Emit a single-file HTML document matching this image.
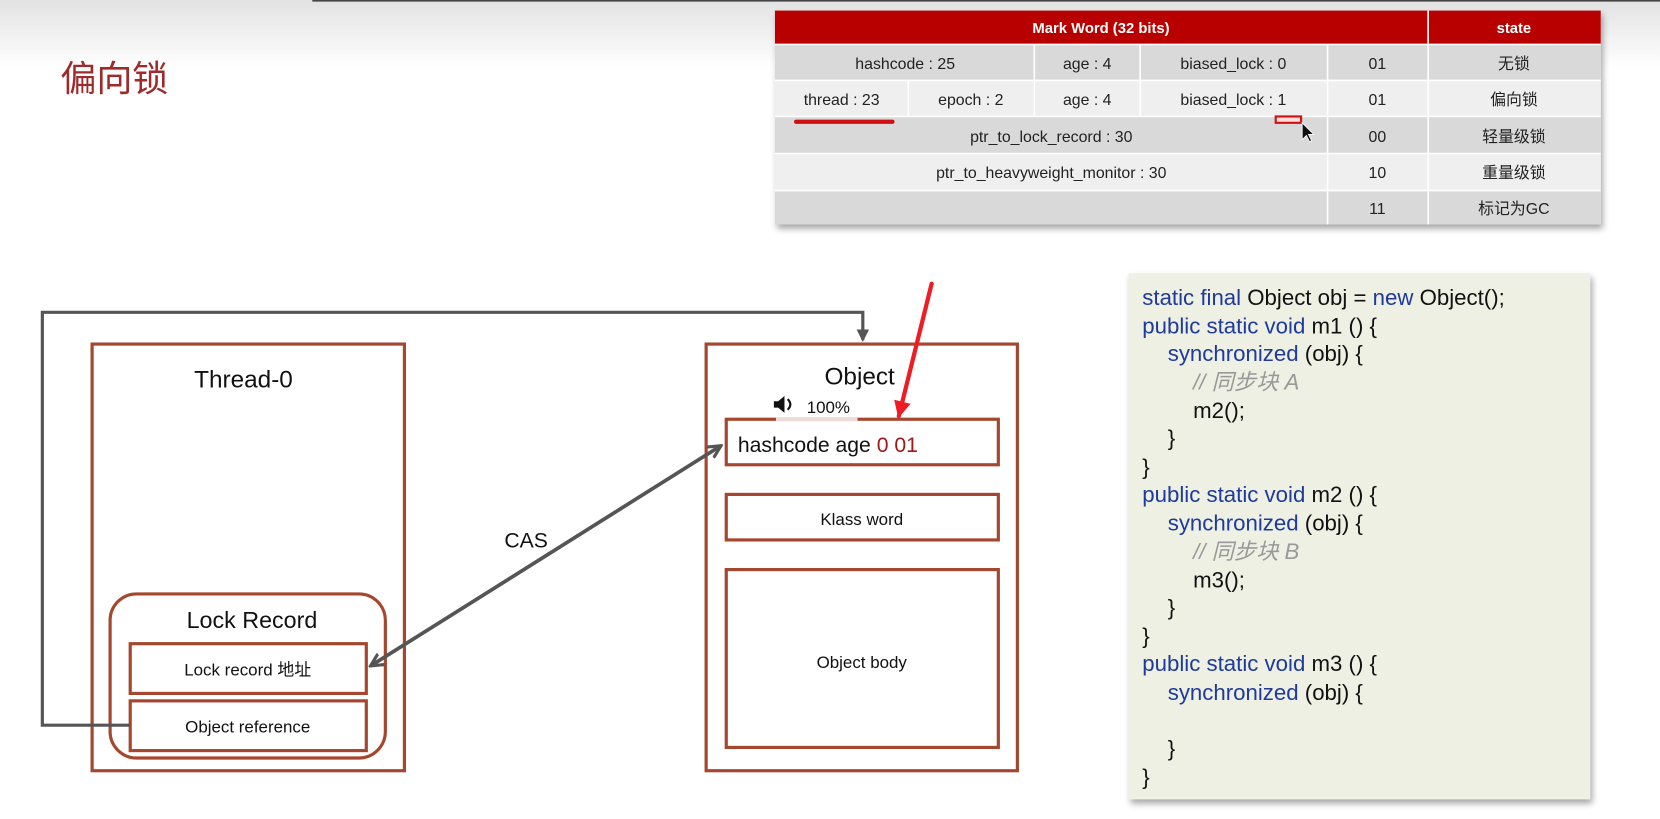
<!DOCTYPE html>
<html><head><meta charset="utf-8"><style>
html,body{margin:0;padding:0;background:#fff;width:1660px;height:819px;overflow:hidden}
svg{display:block}
text{font-family:"Liberation Sans","Noto Sans CJK SC",sans-serif}
</style></head><body>
<svg width="1660" height="819" viewBox="0 0 1568 773.6" xmlns="http://www.w3.org/2000/svg">
<defs>
<linearGradient id="tg" x1="0" y1="0" x2="0" y2="1"><stop offset="0" stop-color="#e2e2e2"/><stop offset="1" stop-color="#fff"/></linearGradient>
<marker id="ga" markerWidth="14" markerHeight="14" refX="10" refY="7" orient="auto" markerUnits="userSpaceOnUse"><path d="M0,1 L12,7 L0,13 z" fill="#555"/></marker>
<marker id="ga2" markerWidth="14" markerHeight="14" refX="12" refY="7" orient="auto-start-reverse" markerUnits="userSpaceOnUse"><path d="M0,1 L12,7 L0,13" fill="none" stroke="#555" stroke-width="3"/></marker>
<marker id="ra" markerWidth="18" markerHeight="18" refX="14" refY="9" orient="auto" markerUnits="userSpaceOnUse"><path d="M0,1 L16,9 L0,17 z" fill="#ee1c25"/></marker>
<filter id="sh" x="-5%" y="-5%" width="112%" height="115%"><feDropShadow dx="2" dy="4" stdDeviation="3" flood-color="#000" flood-opacity="0.35"/></filter>
</defs>
<rect x="0" y="0" width="1568" height="65" fill="url(#tg)"/>
<rect x="295" y="0" width="1273" height="1.5" fill="#444"/>
<text x="57" y="86" font-size="34" fill="#9e2a2b">偏向锁</text>

<g filter="url(#sh)">
<rect x="732" y="10" width="780" height="202" fill="#d9d9d9"/>
</g>
<rect x="732" y="10" width="780" height="32" fill="#b80000"/>
<rect x="732" y="76" width="780" height="34" fill="#efefef"/>
<rect x="732" y="145" width="780" height="35" fill="#efefef"/>
<g stroke="#fff" stroke-width="1.5">
<line x1="732" y1="42" x2="1512" y2="42"/><line x1="732" y1="76" x2="1512" y2="76"/><line x1="732" y1="110" x2="1512" y2="110"/><line x1="732" y1="145" x2="1512" y2="145"/><line x1="732" y1="180" x2="1512" y2="180"/>
<line x1="1349" y1="10" x2="1349" y2="212"/><line x1="1254" y1="42" x2="1254" y2="212"/>
<line x1="977" y1="42" x2="977" y2="110"/><line x1="1077" y1="42" x2="1077" y2="110"/><line x1="858" y1="76" x2="858" y2="110"/>
</g>
<g font-size="15" fill="#222" text-anchor="middle">
<text x="1040" y="31" fill="#fff" font-weight="bold" font-size="14">Mark Word (32 bits)</text>
<text x="1430" y="31" fill="#fff" font-weight="bold" font-size="14">state</text>
<text x="855" y="65">hashcode : 25</text><text x="1027" y="65">age : 4</text><text x="1165" y="65">biased_lock : 0</text><text x="1301" y="65">01</text><text x="1430" y="65">无锁</text>
<text x="795" y="99">thread : 23</text><text x="917" y="99">epoch : 2</text><text x="1027" y="99">age : 4</text><text x="1165" y="99">biased_lock : 1</text><text x="1301" y="99">01</text><text x="1430" y="99">偏向锁</text>
<text x="993" y="134">ptr_to_lock_record : 30</text><text x="1301" y="134">00</text><text x="1430" y="134">轻量级锁</text>
<text x="993" y="168">ptr_to_heavyweight_monitor : 30</text><text x="1301" y="168">10</text><text x="1430" y="168">重量级锁</text>
<text x="1301" y="202">11</text><text x="1430" y="202">标记为GC</text>
</g>
<line x1="752" y1="115" x2="843" y2="115" stroke="#d01010" stroke-width="4" stroke-linecap="round"/>
<rect x="1205" y="110" width="24" height="6" fill="#fdd" stroke="#d01010" stroke-width="2"/>
<path d="M1230,116 L1230,132 L1234,128 L1237,134 L1239,133 L1236,127 L1241,127 z" fill="#111" stroke="#fff" stroke-width="0.8"/>

<g fill="none" stroke="#a5472f" stroke-width="3">
<rect x="87" y="325" width="295" height="403"/>
<rect x="104" y="561" width="260" height="155" rx="25"/>
<rect x="123" y="608" width="223" height="47"/>
<rect x="123" y="662" width="223" height="47"/>
<rect x="667" y="325" width="294" height="403"/>
<rect x="686" y="396" width="257" height="43"/>
<rect x="686" y="467" width="257" height="43"/>
<rect x="686" y="538" width="257" height="168"/>
</g>
<rect x="733" y="394" width="77" height="4" fill="#ecdcd8"/>
<g fill="#111">
<text x="230" y="366" font-size="23" text-anchor="middle">Thread-0</text>
<text x="238" y="593" font-size="22" text-anchor="middle">Lock Record</text>
<text x="234" y="638" font-size="16" text-anchor="middle">Lock record 地址</text>
<text x="234" y="692" font-size="16" text-anchor="middle">Object reference</text>
<text x="812" y="363" font-size="23" text-anchor="middle">Object</text>
<text x="697" y="427" font-size="20">hashcode age <tspan fill="#a01818">0 01</tspan></text>
<text x="814" y="496" font-size="16" text-anchor="middle">Klass word</text>
<text x="814" y="631" font-size="16" text-anchor="middle">Object body</text>
<text x="497" y="517" font-size="20" text-anchor="middle">CAS</text>
<text x="762" y="390" font-size="16">100%</text>
</g>
<path d="M731,379 h4 l6,-5 v16 l-6,-5 h-4 z" fill="#111"/>
<path d="M744,377 q5,5 0,10" fill="none" stroke="#111" stroke-width="2"/>

<path d="M123,685 H40 V295 H815 V321" fill="none" stroke="#555" stroke-width="3" marker-end="url(#ga)"/>
<line x1="350" y1="629" x2="681" y2="421" stroke="#555" stroke-width="3.5" marker-start="url(#ga2)" marker-end="url(#ga2)"/>
<line x1="880" y1="268" x2="849" y2="393" stroke="#ee1c25" stroke-width="4" stroke-linecap="round" marker-end="url(#ra)"/>

<g filter="url(#sh)"><rect x="1066" y="258" width="436" height="497" fill="#edf0e3"/></g>
<g font-size="21" fill="#111">
<text x="1079" y="288"><tspan fill="#1f3a9a">static final</tspan> Object obj = <tspan fill="#1f3a9a">new</tspan> Object();</text>
<text x="1079" y="315"><tspan fill="#1f3a9a">public static void</tspan> m1 () {</text>
<text x="1103" y="341"><tspan fill="#1f3a9a">synchronized</tspan> (obj) {</text>
<text x="1127" y="368" fill="#999" font-style="italic">// 同步块 A</text>
<text x="1127" y="395">m2();</text>
<text x="1103" y="421">}</text>
<text x="1079" y="448">}</text>
<text x="1079" y="474"><tspan fill="#1f3a9a">public static void</tspan> m2 () {</text>
<text x="1103" y="501"><tspan fill="#1f3a9a">synchronized</tspan> (obj) {</text>
<text x="1127" y="528" fill="#999" font-style="italic">// 同步块 B</text>
<text x="1127" y="555">m3();</text>
<text x="1103" y="581">}</text>
<text x="1079" y="608">}</text>
<text x="1079" y="634"><tspan fill="#1f3a9a">public static void</tspan> m3 () {</text>
<text x="1103" y="661"><tspan fill="#1f3a9a">synchronized</tspan> (obj) {</text>
<text x="1103" y="714">}</text>
<text x="1079" y="741">}</text>
</g>
</svg>
</body></html>
